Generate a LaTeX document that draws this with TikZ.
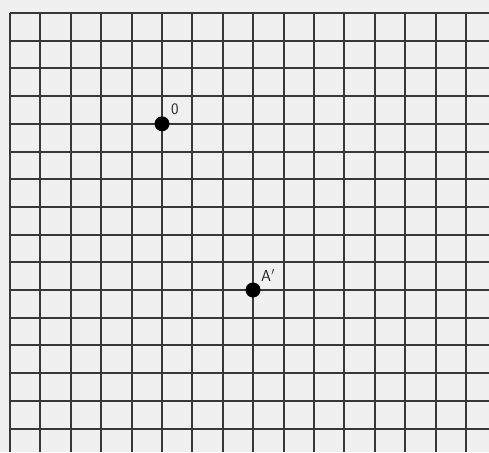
\documentclass[tikz,border=0pt]{standalone}
\begin{document}
\begin{tikzpicture}[x=1pt,y=-1pt,
  gridline/.style={line width=2pt,draw=black!78},
  pt/.style={circle,fill=black,inner sep=0pt,minimum width=15pt,minimum height=14pt},
  lbl/.style={font=\fontsize{16}{16}\sffamily,text=black!85,inner sep=0pt}]
\fill[black!6] (0,0) rectangle (489,452);
\useasboundingbox (0,0) rectangle (489,452);
\foreach \k in {0,...,15} {
  \draw[gridline] ({10+30.4*\k},13) -- ({10+30.4*\k},452);
  \draw[gridline] (10,{13+27.7*\k}) -- (489,{13+27.7*\k});
}
\node[pt] (O) at (162,123.8) {};
\node[lbl] (Olbl) at (175,109) {0};
\node[pt] (A) at (253,290) {};
\node[lbl] (Albl) at (268,275.5) {A$'$};
\end{tikzpicture}
\end{document}
